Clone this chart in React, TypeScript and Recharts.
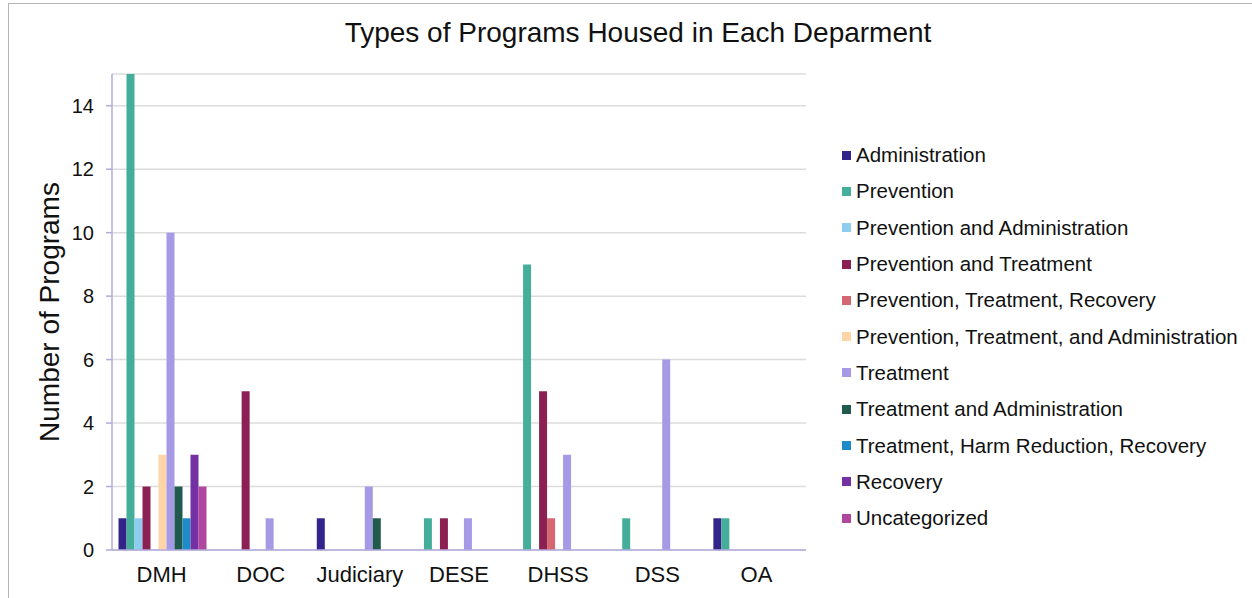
import React from "react";
import { Bar, BarChart, CartesianGrid, XAxis, YAxis } from "recharts";

// Departments along the x axis
const departments = ["DMH", "DOC", "Judiciary", "DESE", "DHSS", "DSS", "OA"];

// Program counts per department, one array per program type
const administration = [1, 0, 1, 0, 0, 0, 1];
const prevention = [15, 0, 0, 1, 9, 1, 1];
const preventionAdmin = [1, 0, 0, 0, 0, 0, 0];
const preventionTreatment = [2, 5, 0, 1, 5, 0, 0];
const preventionTreatmentRecovery = [0, 0, 0, 0, 1, 0, 0];
const preventionTreatmentAdmin = [3, 0, 0, 0, 0, 0, 0];
const treatment = [10, 1, 2, 1, 3, 6, 0];
const treatmentAdmin = [2, 0, 1, 0, 0, 0, 0];
const treatmentHarmRecovery = [1, 0, 0, 0, 0, 0, 0];
const recovery = [3, 0, 0, 0, 0, 0, 0];
const uncategorized = [2, 0, 0, 0, 0, 0, 0];

const yTicks = [0, 2, 4, 6, 8, 10, 12, 14];

const series = [
  { key: "Administration", values: administration, color: "#32248a" },
  { key: "Prevention", values: prevention, color: "#45ae9b" },
  { key: "Prevention and Administration", values: preventionAdmin, color: "#8ecdf0" },
  { key: "Prevention and Treatment", values: preventionTreatment, color: "#8b2153" },
  { key: "Prevention, Treatment, Recovery", values: preventionTreatmentRecovery, color: "#d46772" },
  { key: "Prevention, Treatment, and Administration", values: preventionTreatmentAdmin, color: "#fdd5a8" },
  { key: "Treatment", values: treatment, color: "#a699e6" },
  { key: "Treatment and Administration", values: treatmentAdmin, color: "#205a4d" },
  { key: "Treatment, Harm Reduction, Recovery", values: treatmentHarmRecovery, color: "#1d8cc9" },
  { key: "Recovery", values: recovery, color: "#7331a3" },
  { key: "Uncategorized", values: uncategorized, color: "#b0479f" },
];

const data = departments.map((dept, i) => {
  const row: Record<string, string | number> = { dept };
  series.forEach((s) => {
    row[s.key] = s.values[i];
  });
  return row;
});

const FONT = "'Liberation Sans', Arial, Helvetica, sans-serif";
const AXIS_COLOR = "#b3aadd";

function LegendList() {
  return (
    <div
      style={{
        position: "absolute",
        left: 842,
        top: 137,
        fontFamily: FONT,
        fontSize: 20.5,
        color: "#111",
      }}
    >
      {series.map((s) => (
        <div
          key={s.key}
          style={{ display: "flex", alignItems: "center", height: 36.3 }}
        >
          <span
            style={{
              width: 9,
              height: 9,
              background: s.color,
              marginRight: 5,
              display: "inline-block",
            }}
          />
          <span style={{ whiteSpace: "nowrap" }}>{s.key}</span>
        </div>
      ))}
    </div>
  );
}

export default function App() {
  return (
    <div
      style={{
        position: "absolute",
        left: 0,
        top: 0,
        width: 1252,
        height: 598,
        background: "#fff",
        overflow: "hidden",
      }}
    >
      {/* frame edges */}
      <div
        style={{
          position: "absolute",
          left: 8,
          top: 3,
          width: 1300,
          height: 700,
          borderLeft: "1.5px solid #b5b5b5",
          borderTop: "1.5px solid #b5b5b5",
        }}
      />
      <div
        style={{
          position: "absolute",
          left: 0,
          width: 1276,
          top: 17,
          textAlign: "center",
          fontFamily: FONT,
          fontSize: 28,
          color: "#111",
        }}
      >
        Types of Programs Housed in Each Deparment
      </div>
      <div
        style={{
          position: "absolute",
          left: 50,
          top: 312,
          transform: "translate(-50%, -50%) rotate(-90deg)",
          whiteSpace: "nowrap",
          fontFamily: FONT,
          fontSize: 28,
          color: "#111",
        }}
      >
        Number of Programs
      </div>
      <div style={{ position: "absolute", left: 0, top: 0 }}>
        <BarChart
          width={1252}
          height={598}
          data={data}
          margin={{ top: 74, right: 446, bottom: 18, left: 0 }}
          barCategoryGap={6.5}
          barGap={0}
        >
          <CartesianGrid vertical={false} stroke="#dcdcdc" strokeWidth={1.5} />
          <XAxis
            dataKey="dept"
            height={30}
            tickLine={false}
            tickSize={0}
            tickMargin={16}
            axisLine={{ stroke: AXIS_COLOR, strokeWidth: 1.5 }}
            tick={{ fill: "#111", fontSize: 22, fontFamily: FONT }}
            interval={0}
          />
          <YAxis
            width={112}
            domain={[0, 15]}
            ticks={yTicks}
            allowDataOverflow
            tickSize={6}
            tickMargin={12}
            tickLine={{ stroke: AXIS_COLOR, strokeWidth: 1.5 }}
            axisLine={{ stroke: AXIS_COLOR, strokeWidth: 1.5 }}
            tick={{ fill: "#111", fontSize: 20, fontFamily: FONT }}
          />
          {series.map((s) => (
            <Bar
              key={s.key}
              dataKey={s.key}
              fill={s.color}
              isAnimationActive={false}
            />
          ))}
        </BarChart>
      </div>
      <LegendList />
    </div>
  );
}
